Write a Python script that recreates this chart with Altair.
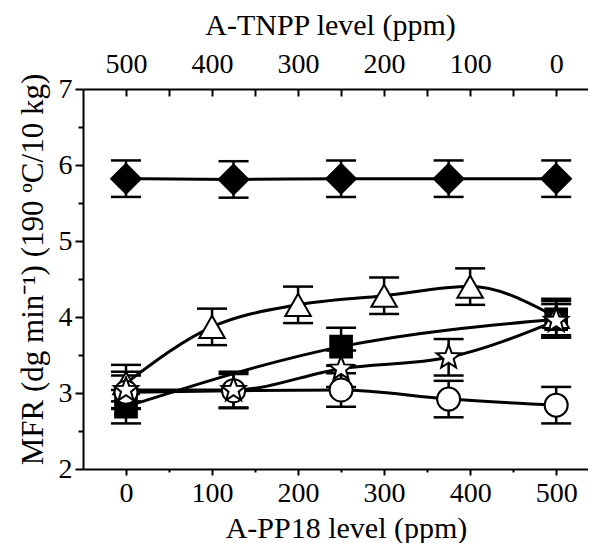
import altair as alt
import pandas as pd

# ---- data ----
diamond_x = [0, 125, 250, 375, 500]
diamond_y = [5.82, 5.81, 5.82, 5.82, 5.82]
diamond_err = [0.24, 0.24, 0.24, 0.24, 0.24]

triangle_x = [0, 100, 200, 300, 400, 500]
triangle_y = [3.13, 3.87, 4.16, 4.28, 4.40, 4.00]
triangle_err = [0.24, 0.24, 0.24, 0.24, 0.24, 0.24]

square_x = [0, 250, 500]
square_y = [2.82, 3.61, 3.97]
square_err = [0.22, 0.25, 0.24]

star_x = [0, 125, 250, 375, 500]
star_y = [3.04, 3.04, 3.32, 3.47, 3.95]
star_err = [0.24, 0.24, 0.24, 0.24, 0.22]

circle_x = [0, 125, 250, 375, 500]
circle_y = [3.01, 3.03, 3.04, 2.92, 2.84]
circle_err = [0.22, 0.22, 0.22, 0.24, 0.24]

x_ticks = [0, 50, 100, 150, 200, 250, 300, 350, 400, 450, 500]
y_ticks = [2, 2.5, 3, 3.5, 4, 4.5, 5, 5.5, 6, 6.5, 7]

series = [
    ("diamond", diamond_x, diamond_y, diamond_err),
    ("square", square_x, square_y, square_err),
    ("triangle", triangle_x, triangle_y, triangle_err),
    ("circle", circle_x, circle_y, circle_err),
    ("star", star_x, star_y, star_err),
]
rows = []
for name, xs, ys, es in series:
    for xv, yv, ev in zip(xs, ys, es):
        rows.append({"series": name, "x": xv, "y": yv, "lo": yv - ev, "hi": yv + ev})
df = pd.DataFrame(rows)

FONT = "Liberation Serif"
xscale = alt.Scale(domain=[-50, 537], nice=False, zero=False)
yscale = alt.Scale(domain=[2, 7], nice=False, zero=False)

bottom_axis = alt.Axis(
    orient="bottom", values=x_ticks,
    labelExpr="datum.value % 100 === 0 ? datum.value : ''",
    tickSize={"condition": {"test": "datum.value % 100 === 0", "value": 6}, "value": 3},
    labelPadding=4, title="A-PP18 level (ppm)", titlePadding=6, titleX=263,
)
# top axis: drawn 7px inside the frame so that its ticks point inwards
top_axis = alt.Axis(
    orient="top", values=x_ticks, offset=-7, domain=False,
    labelExpr="datum.value % 100 === 0 ? 500 - datum.value : ''",
    tickSize=7,
    labelPadding=11, title="A-TNPP level (ppm)", titlePadding=10, titleX=247,
)
# top frame line (domain only)
top_frame = alt.Axis(orient="top", domain=True, ticks=False, labels=False, title="")
left_axis = alt.Axis(
    orient="left", values=y_ticks,
    labelExpr="datum.value % 1 === 0 ? datum.value : ''",
    tickSize={"condition": {"test": "datum.value % 1 === 0", "value": 8}, "value": 5},
    labelPadding=3, title="MFR (dg min\u207b\u00b9) (190 \u00baC/10 kg)", titlePadding=9,
    titleY=180, titleFontSize=31,
)

base = alt.Chart(df)

err = base.mark_rule(color="black", strokeWidth=2.5).encode(
    x=alt.X("x:Q", scale=xscale, axis=bottom_axis),
    y=alt.Y("lo:Q", scale=yscale, axis=left_axis),
    y2="hi:Q",
)
cap_hi = base.mark_tick(orient="horizontal", size=30, thickness=2.5, color="black", opacity=1).encode(
    x=alt.X("x:Q", scale=xscale, axis=None),
    y=alt.Y("hi:Q", scale=yscale, axis=left_axis),
)
cap_lo = base.mark_tick(orient="horizontal", size=30, thickness=2.5, color="black", opacity=1).encode(
    x=alt.X("x:Q", scale=xscale, axis=top_frame),
    y=alt.Y("lo:Q", scale=yscale, axis=left_axis),
)
lines = base.mark_line(color="black", strokeWidth=3, interpolate="monotone").encode(
    x=alt.X("x:Q", scale=xscale, axis=top_axis),
    y=alt.Y("y:Q", scale=yscale, axis=left_axis),
    detail="series:N",
    order="x:Q",
)

STAR = ("M0,-1L0.247,-0.34L0.951,-0.309L0.399,0.13L0.588,0.809L0,0.42"
        "L-0.588,0.809L-0.399,0.13L-0.951,-0.309L-0.247,-0.34Z")
marker_styles = {
    "diamond": dict(shape="diamond", size=880, fill="black"),
    "square": dict(shape="square", size=470, fill="black"),
    "triangle": dict(shape="triangle-up", size=650, fill="white"),
    "circle": dict(shape="circle", size=530, fill="white"),
    "star": dict(shape=STAR, size=640, fill="white"),
}
point_layers = []
for name, _, _, _ in series:
    st = marker_styles[name]
    point_layers.append(
        base.transform_filter(alt.datum.series == name)
        .mark_point(shape=st["shape"], size=st["size"], filled=True, fill=st["fill"],
                    stroke="black", strokeWidth=2, opacity=1)
        .encode(
            x=alt.X("x:Q", scale=xscale, axis=None),
            y=alt.Y("y:Q", scale=yscale, axis=left_axis),
        )
    )

chart = alt.layer(err, cap_hi, cap_lo, lines, *point_layers).properties(
    width=505, height=380,
    autosize=alt.AutoSizeParams(type="none"),
    padding={"left": 75, "top": 81, "right": 0, "bottom": 76},
).configure_view(stroke=None).configure_axis(
    grid=False,
    domainColor="black", domainWidth=2,
    tickColor="black", tickWidth=2,
    labelFont=FONT, labelFontSize=28, labelColor="black",
    titleFont=FONT, titleFontSize=30, titleFontWeight="normal", titleColor="black",
)

chart.save("out.html", embed_options={"renderer": "svg", "actions": False})
